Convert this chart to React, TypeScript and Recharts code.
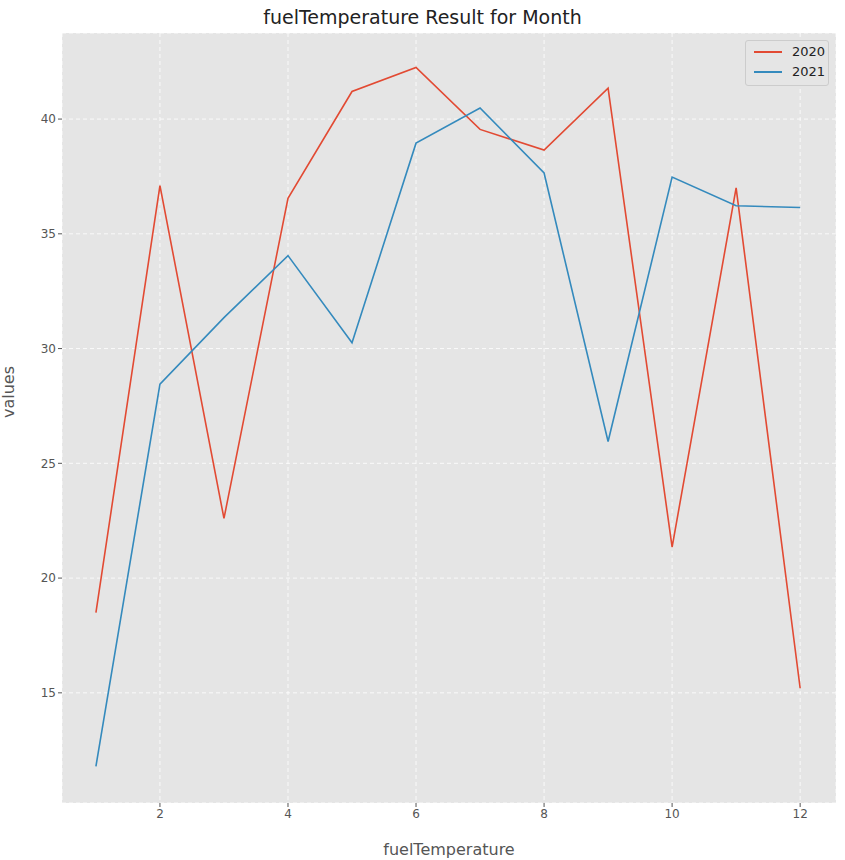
import { CartesianGrid, Line, LineChart, XAxis, YAxis } from 'recharts';

const months = [1, 2, 3, 4, 5, 6, 7, 8, 9, 10, 11, 12];
const values2020 = [18.5, 37.1, 22.6, 36.55, 41.2, 42.25, 39.55, 38.65, 41.35, 21.35, 37.0, 15.2];
const values2021 = [11.8, 28.45, 31.35, 34.05, 30.25, 38.95, 40.48, 37.65, 25.95, 37.47, 36.22, 36.15];
const xTicks = [2, 4, 6, 8, 10, 12];
const yTicks = [15, 20, 25, 30, 35, 40];

const data = months.map((m, i) => ({ month: m, y2020: values2020[i], y2021: values2021[i] }));

const font = '"DejaVu Sans", sans-serif';
const tickStyle = { fontSize: 12, fill: '#555', fontFamily: font };

const App = () => (
  <div style={{ position: 'absolute', left: 0, top: 0, width: 845, height: 860, background: '#fff', fontFamily: font }}>
    <div style={{ position: 'absolute', top: 6, width: 845, textAlign: 'center', fontSize: 19, color: '#222' }}>
      fuelTemperature Result for Month
    </div>
    <LineChart width={845} height={860} data={data} margin={{ top: 33, right: 9, bottom: 27, left: 22 }}>
      <CartesianGrid fill="#e5e5e5" stroke="#fff" strokeDasharray="4 3" strokeWidth={0.8} ticks={yTicks} />
      <XAxis
        dataKey="month"
        type="number"
        domain={[0.47, 12.56]}
        ticks={xTicks}
        allowDataOverflow
        height={30}
        axisLine={false}
        tickLine={{ stroke: '#555' }}
        tickSize={4}
        tick={tickStyle}
        label={{ value: 'fuelTemperature', position: 'insideBottom', offset: -22, fontSize: 16, fill: '#555', fontFamily: font }}
      />
      <YAxis
        type="number"
        domain={[10.2, 43.75]}
        ticks={yTicks}
        allowDataOverflow
        width={40}
        axisLine={false}
        tickLine={{ stroke: '#555' }}
        tickSize={4}
        tick={tickStyle}
        label={{ value: 'values', angle: -90, position: 'insideLeft', offset: -14, fontSize: 16, fill: '#555', fontFamily: font }}
      />
      <Line type="linear" dataKey="y2020" stroke="#E24A33" strokeWidth={1.6} dot={false} isAnimationActive={false} />
      <Line type="linear" dataKey="y2021" stroke="#348ABD" strokeWidth={1.6} dot={false} isAnimationActive={false} />
    </LineChart>
    <div
      style={{
        position: 'absolute', left: 745, top: 40, width: 82, height: 44, background: '#e5e5e5',
        border: '1px solid #ccc', borderRadius: 3, fontSize: 13, color: '#222',
      }}
    >
      {[['2020', '#E24A33'], ['2021', '#348ABD']].map(([name, c], i) => (
        <div key={name} style={{ position: 'absolute', left: 8, top: 3 + i * 20, display: 'flex', alignItems: 'center' }}>
          <span style={{ display: 'inline-block', width: 28, height: 2, background: c, marginRight: 10 }} />
          {name}
        </div>
      ))}
    </div>
  </div>
);

export default App;
